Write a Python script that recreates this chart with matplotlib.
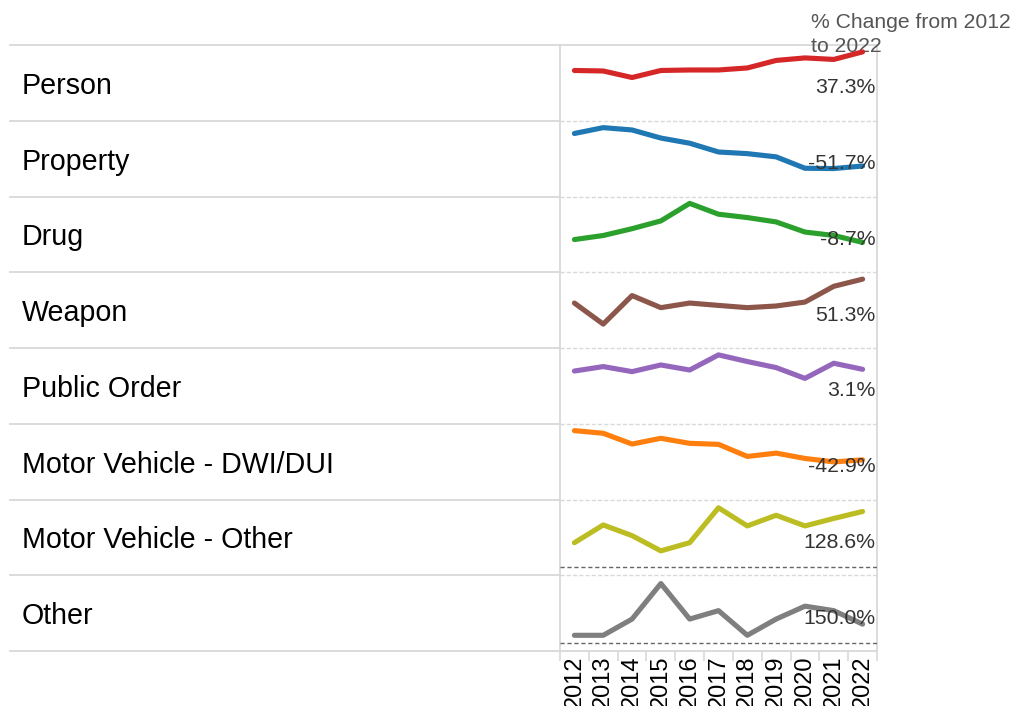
import numpy as np
import matplotlib.pyplot as plt
from matplotlib.ticker import FixedLocator

plt.rcParams['font.family'] = ['Liberation Sans', 'DejaVu Sans']

years = list(range(2012, 2023))
categories = ["Person", "Property", "Drug", "Weapon", "Public Order",
              "Motor Vehicle - DWI/DUI", "Motor Vehicle - Other", "Other"]
person = [50, 49.5, 43, 50, 50.5, 50.5, 52.5, 60, 62.5, 61, 68.5]
prop = [64.7, 70.7, 68.3, 60, 54.7, 45.7, 44, 40.7, 29, 28.7, 31.3]
drug = [32.3, 36.3, 43, 50.7, 68, 57.3, 54, 49.7, 39.7, 36.3, 29.5]
weapon = [45.7, 24.3, 53.3, 41, 45.7, 43.3, 41, 42.7, 46.7, 62.7, 70]
public_order = [52.3, 56.7, 51.7, 58.3, 53.3, 68.3, 61.7, 55.7, 45, 60, 54]
dwi = [68.3, 65.7, 55, 60.7, 55.7, 54.7, 42.7, 46, 40.7, 37.3, 39.3]
mv_other = [25, 43.3, 32.3, 16.6, 25, 61, 42.3, 53.3, 42.3, 50, 57.2]
other = [7.3, 7.3, 23.3, 58.3, 23.3, 31.6, 7.3, 23.3, 36, 31.6, 18.3]
pct_change = ["37.3%", "-51.7%", "-8.7%", "51.3%", "3.1%", "-42.9%", "128.6%", "150.0%"]

series = [person, prop, drug, weapon, public_order, dwi, mv_other, other]
colors = ["#d62728", "#1f77b4", "#2ca02c", "#8c564b", "#9467bd",
          "#ff7f0e", "#bcbd22", "#7f7f7f"]
zero_pad = [False] * 6 + [True, True]

W, H = 1013, 706
fig = plt.figure(figsize=(W / 100, H / 100), dpi=100)

# background layer in pixel coords for the table grid
bg = fig.add_axes([0, 0, 1, 1])
bg.set_xlim(0, W)
bg.set_ylim(H, 0)
bg.axis('off')

top, bottom = 45, 651
left_x, panel_l, panel_r = 10, 560, 877
edges = np.linspace(top, bottom, len(categories) + 1)
grid_c = "#d9d9d9"

for i, y in enumerate(edges):
    bg.plot([left_x, panel_l], [y, y], color=grid_c, lw=1.3)
    if i == 0 or i == len(edges) - 1:
        bg.plot([panel_l, panel_r], [y, y], color=grid_c, lw=1.3)
    else:
        bg.plot([panel_l, panel_r], [y, y], color=grid_c, lw=1.0, ls=(0, (3, 1.5)))
for x in [panel_l, panel_r]:
    bg.plot([x, x], [top, bottom], color=grid_c, lw=1.3)

for i, name in enumerate(categories):
    bg.text(22, (edges[i] + edges[i + 1]) / 2 + 3, name, fontsize=20.6,
            va='center', ha='left', color='black')

bg.text(811, 13, "% Change from 2012\nto 2022", fontsize=15.2, color='#555555',
        va='top', ha='left', linespacing=1.3)

# sparkline panels
for i, vals in enumerate(series):
    y0, y1 = edges[i], edges[i + 1]
    ax = fig.add_axes([panel_l / W, 1 - y1 / H, (panel_r - panel_l) / W, (y1 - y0) / H])
    ax.patch.set_alpha(0)
    ax.plot(years, vals, color=colors[i], lw=3.7, solid_capstyle='round',
            solid_joinstyle='round', zorder=2)
    m = max(vals)
    if zero_pad[i]:
        ax.set_ylim(-0.14 * m, 1.14 * m)
        ax.axhline(0, color='#666666', lw=1.0, ls=(0, (3, 2)), zorder=1)
    else:
        ax.set_ylim(0, 1.1 * m)
    ax.set_xlim(2011.5, 2022.5)
    for s in ax.spines.values():
        s.set_visible(False)
    ax.set_yticks([])
    ax.text(0.995, 0.5 - 5 / (y1 - y0), pct_change[i], transform=ax.transAxes,
            ha='right', va='center', fontsize=15.3, color='#333333', zorder=3)
    if i == len(series) - 1:
        ax.set_xticks(years)
        ax.set_xticklabels([str(y) for y in years], rotation=90, fontsize=17)
        ax.tick_params(axis='x', which='major', length=0, pad=3)
        ax.xaxis.set_minor_locator(FixedLocator(np.arange(2011.5, 2023, 1)))
        ax.tick_params(axis='x', which='minor', length=7, width=1.2, color=grid_c)
    else:
        ax.set_xticks([])

fig.savefig("out.png", dpi=100)
